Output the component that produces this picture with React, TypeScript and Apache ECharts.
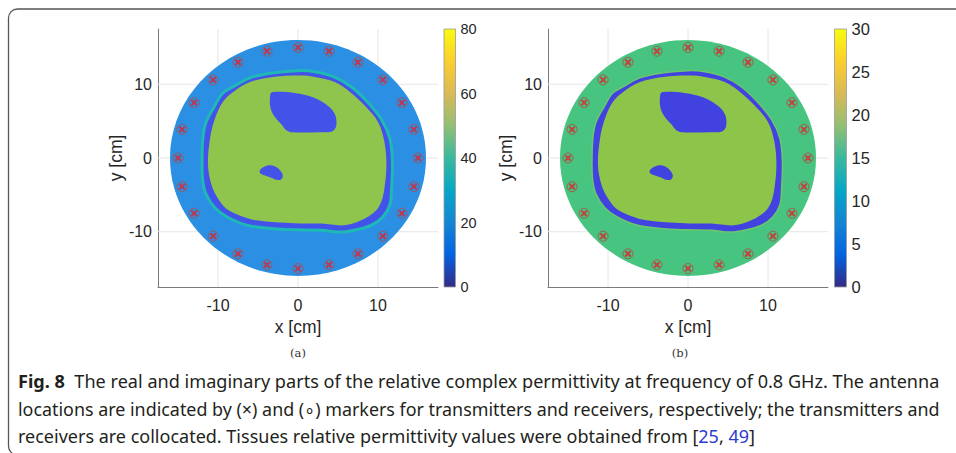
import React, { useEffect, useRef } from 'react';
import * as echarts from 'echarts';

// ---------- data ----------
const AXIS_MIN = -17.5;
const AXIS_MAX = 17.5;
const AXIS_STEP = 2.5;
const TICK_VALUES = [-10, 0, 10];
const DISC_RADIUS = 16;
const ANTENNA_RADIUS = 15;
const ANTENNA_ANGLES_DEG = [0, 15, 30, 45, 60, 75, 90, 105, 120, 135, 150, 165, 180, 195, 210, 225, 240, 255, 270, 285, 300, 315, 330, 345];

// centre line of the skin band (outer body outline), cm
const SKIN_CONTOUR = [
  [0, 11.85], [2.1, 11.7], [4.5, 11.0], [6.6, 9.7], [8.6, 7.7], [10.45, 5.2], [11.5, 2.6], [11.8, -0.5],
  [11.7, -4.1], [11.5, -6.3], [10.6, -8.0], [9.1, -9.15], [7.05, -9.8], [5.4, -10.05], [2.9, -9.8],
  [-0.4, -9.75], [-3.1, -9.6], [-6.4, -9.1], [-8.85, -8.0], [-10.4, -6.75], [-11.5, -4.9], [-11.9, -3.15],
  [-12.0, -1.0], [-11.9, 2.6], [-11.5, 4.85], [-10.45, 7.0], [-9.45, 8.75], [-7.95, 9.75], [-5.95, 10.9], [-3.1, 11.55],
];
// inner edge of fat layer (muscle outline), cm
const MUSCLE_CONTOUR = [
  [0.2, 11.2], [2.1, 11.0], [4.6, 10.3], [6.5, 8.96], [8.3, 7.15], [10.0, 4.9], [10.8, 2.2], [11.05, -1.0],
  [10.8, -4.15], [10.4, -5.97], [9.6, -7.3], [7.9, -8.45], [5.8, -9.13], [2.9, -8.9], [-0.4, -8.85],
  [-5.2, -8.45], [-7.3, -7.8], [-8.95, -6.9], [-10.0, -5.5], [-10.8, -3.7], [-11.25, -1.0], [-11.0, 2.6],
  [-10.4, 5.3], [-9.4, 7.6], [-8.1, 8.96], [-6.0, 10.3], [-3.1, 11.0],
];
const LUNG_CONTOUR = [
  [-3.4, 8.8], [-3.1, 8.95], [-1.46, 8.95], [0.2, 8.7], [2.3, 8.05], [3.96, 6.9], [4.58, 6.0], [4.8, 5.1],
  [4.7, 4.1], [4.17, 3.57], [2.7, 3.5], [-0.83, 3.5], [-1.46, 3.75], [-2.08, 4.57], [-2.7, 5.3], [-3.25, 6.2],
  [-3.5, 7.2], [-3.5, 8.3],
];
const SMALL_ORGAN_CONTOUR = [
  [-4.8, -1.76], [-4.4, -1.3], [-3.6, -1.0], [-2.9, -1.13], [-2.3, -1.6], [-1.9, -2.35], [-2.1, -2.9],
  [-2.7, -2.95], [-3.33, -2.67], [-4.2, -2.35], [-4.7, -2.1],
];

const COLORBAR_A_TICKS = [0, 20, 40, 60, 80];
const COLORBAR_B_TICKS = [0, 5, 10, 15, 20, 25, 30];

const PARULA_STOPS = ['#352a87', '#0363e1', '#1485d4', '#06a7c6', '#38b99e', '#92bf73', '#d9ba56', '#fcce2e', '#f9fb0e'];

const PANEL_COLORS = [
  { bg: '#2b8fe3', skin: '#1fb9b5', skinWidth: 3, fat: '#4353ea', muscle: '#8fc54c', organ: '#4353ea' },
  { bg: '#47c480', skin: '#6cc66e', skinWidth: 1.5, fat: '#4242e0', muscle: '#8dc54b', organ: '#4242e0' },
];

const CAPTION_LINES: [string, string][][] = [
  [['b', 'Fig. 8'], ['n', '  The real and imaginary parts of the relative complex permittivity at frequency of 0.8 GHz. The antenna']],
  [['n', 'locations are indicated by (\u00d7) and (\u2218) markers for transmitters and receivers, respectively; the transmitters and']],
  [['n', 'receivers are collocated. Tissues relative permittivity values were obtained from ['], ['l', '25'], ['n', ', '], ['l', '49'], ['n', ']']],
];

const FONT = '"Liberation Sans", Arial, sans-serif';
const CAP_FONT = '"Noto Sans", sans-serif';
const CAP_SIZE = 18;

function measure(segs: [string, string][]) {
  const ctx = document.createElement('canvas').getContext('2d')!;
  let w = 0;
  for (const [k, t] of segs) {
    ctx.font = `${k === 'b' ? 'bold ' : ''}${CAP_SIZE}px "Noto Sans"`;
    w += ctx.measureText(t).width;
  }
  return w;
}

export default function App() {
  const ref = useRef<HTMLDivElement>(null);
  useEffect(() => {
    if (!ref.current) return;
    const chart = echarts.init(ref.current, undefined, { renderer: 'svg' });

    const tickFmt = (v: number) => (TICK_VALUES.some((t) => Math.abs(t - v) < 1e-6) ? String(Math.round(v)) : '');
    const xAx = (gi: number) => ({
      type: 'value', gridIndex: gi, min: AXIS_MIN, max: AXIS_MAX, interval: AXIS_STEP,
      name: 'x [cm]', nameLocation: 'middle', nameGap: 29,
      nameTextStyle: { fontFamily: FONT, fontSize: 17.5, color: '#262626' },
      axisLine: { show: true, onZero: false, lineStyle: { color: '#7a7a7a', width: 1 } },
      axisTick: { show: false }, splitLine: { show: false },
      axisLabel: { formatter: tickFmt, fontFamily: FONT, fontSize: 16, color: '#262626', margin: 10 },
    });
    const yAx = (gi: number) => ({
      type: 'value', gridIndex: gi, min: AXIS_MIN, max: AXIS_MAX, interval: AXIS_STEP,
      name: 'y [cm]', nameLocation: 'middle', nameGap: 30, nameRotate: 90,
      nameTextStyle: { fontFamily: FONT, fontSize: 17.5, color: '#262626' },
      axisLine: { show: true, onZero: false, lineStyle: { color: '#7a7a7a', width: 1 } },
      axisTick: { show: false }, splitLine: { show: false },
      axisLabel: { formatter: tickFmt, fontFamily: FONT, fontSize: 16, color: '#262626', margin: 6 },
    });
    const cbX = (gi: number) => ({ type: 'value', gridIndex: gi, min: 0, max: 1, show: false });
    const cbY = (gi: number, ticks: number[], size: number) => ({
      type: 'value', gridIndex: gi, min: ticks[0], max: ticks[ticks.length - 1], interval: ticks[1] - ticks[0],
      position: 'right', axisLine: { show: false }, axisTick: { show: false }, splitLine: { show: false },
      axisLabel: { fontFamily: FONT, fontSize: size, color: '#262626', margin: 5 },
    });

    const polySeries = (pi: number, contour: number[][], fill: string, z: number, stroke?: string, lw?: number) => ({
      type: 'custom', xAxisIndex: pi, yAxisIndex: pi, z, silent: true, data: [[0, 0]],
      renderItem: (_p: any, api: any) => ({
        type: 'polygon',
        shape: { points: contour.map((p) => api.coord(p)), smooth: 0.35 },
        style: { fill, stroke: stroke || 'none', lineWidth: lw || 0 },
      }),
    });

    const series: any[] = [];
    [0, 1].forEach((pi) => {
      const c = PANEL_COLORS[pi];
      series.push({
        type: 'custom', xAxisIndex: pi, yAxisIndex: pi, z: 1, silent: true,
        data: TICK_VALUES.map((v) => [v, v]),
        renderItem: (_p: any, api: any) => {
          const v = api.value(0);
          const a = api.coord([v, AXIS_MIN]); const b = api.coord([v, AXIS_MAX]);
          const c1 = api.coord([AXIS_MIN, v]); const d = api.coord([AXIS_MAX, v]);
          const st = { stroke: '#e6e6e6', lineWidth: 1 };
          return {
            type: 'group', children: [
              { type: 'line', shape: { x1: a[0], y1: a[1], x2: b[0], y2: b[1] }, style: st },
              { type: 'line', shape: { x1: c1[0], y1: c1[1], x2: d[0], y2: d[1] }, style: st },
            ],
          };
        },
      });
      series.push({
        type: 'custom', xAxisIndex: pi, yAxisIndex: pi, z: 2, silent: true, data: [[0, 0, DISC_RADIUS]],
        renderItem: (_p: any, api: any) => {
          const ctr = api.coord([api.value(0), api.value(1)]);
          const s = api.size([api.value(2), api.value(2)]);
          return { type: 'ellipse', shape: { cx: ctr[0], cy: ctr[1], rx: s[0], ry: s[1] }, style: { fill: c.bg } };
        },
      });
      series.push(polySeries(pi, SKIN_CONTOUR, c.fat, 3, c.skin, c.skinWidth));
      series.push(polySeries(pi, MUSCLE_CONTOUR, c.muscle, 4));
      series.push(polySeries(pi, LUNG_CONTOUR, c.organ, 5));
      series.push(polySeries(pi, SMALL_ORGAN_CONTOUR, c.organ, 5));
      const ant = ANTENNA_ANGLES_DEG.map((d) => [
        ANTENNA_RADIUS * Math.cos((d * Math.PI) / 180),
        ANTENNA_RADIUS * Math.sin((d * Math.PI) / 180),
      ]);
      series.push({
        type: 'scatter', xAxisIndex: pi, yAxisIndex: pi, z: 6, silent: true, data: ant,
        symbol: 'circle', symbolSize: 10,
        itemStyle: { color: 'rgba(0,0,0,0)', borderColor: '#a8504e', borderWidth: 1, opacity: 0.85 },
      });
      series.push({
        type: 'scatter', xAxisIndex: pi, yAxisIndex: pi, z: 7, silent: true, data: ant,
        symbol: 'path://M0,2 L2,0 L5,3 L8,0 L10,2 L7,5 L10,8 L8,10 L5,7 L2,10 L0,8 L3,5 Z',
        symbolSize: 7, itemStyle: { color: '#e3202a' },
      });
    });

    const grad = () => new echarts.graphic.LinearGradient(0, 1, 0, 0,
      PARULA_STOPS.map((col, i) => ({ offset: i / (PARULA_STOPS.length - 1), color: col })));
    [[2, COLORBAR_A_TICKS], [3, COLORBAR_B_TICKS]].forEach(([gi, ticks]: any) => {
      series.push({
        type: 'custom', xAxisIndex: gi, yAxisIndex: gi, z: 2, silent: true,
        data: [[0, ticks[0], 1, ticks[ticks.length - 1]]],
        renderItem: (_p: any, api: any) => {
          const p0 = api.coord([api.value(0), api.value(1)]);
          const p1 = api.coord([api.value(2), api.value(3)]);
          return {
            type: 'rect',
            shape: { x: p0[0], y: p1[1], width: p1[0] - p0[0], height: p0[1] - p1[1] },
            style: { fill: grad(), stroke: '#9a9a9a', lineWidth: 0.8 },
          };
        },
      });
    });

    // caption
    const w1 = measure(CAPTION_LINES[0]);
    const w2 = measure(CAPTION_LINES[1]);
    const s1 = 922 / w1; const s2 = 922 / w2; const s3 = (s1 + s2) / 2;
    const scales = [s1, s2, s3];
    const ys = [381, 408.5, 436];
    const captionGraphics = CAPTION_LINES.map((segs, i) => ({
      type: 'text', x: 18, y: ys[i], scaleX: scales[i], silent: true,
      style: {
        text: segs.map(([k, t]) => `{${k}|${t}}`).join(''),
        verticalAlign: 'middle',
        rich: {
          b: { fontFamily: CAP_FONT, fontSize: CAP_SIZE, fontWeight: 'bold', fill: '#231f20' },
          n: { fontFamily: CAP_FONT, fontSize: CAP_SIZE, fill: '#231f20' },
          l: { fontFamily: CAP_FONT, fontSize: CAP_SIZE, fill: '#2c3bd0' },
        },
      },
    }));

    chart.setOption({
      animation: false,
      backgroundColor: '#ffffff',
      grid: [
        { left: 158, top: 29, width: 280, height: 258 },
        { left: 548, top: 29, width: 280, height: 258 },
        { left: 444, top: 29, width: 11.5, height: 258 },
        { left: 834.5, top: 29, width: 12, height: 258 },
      ],
      xAxis: [xAx(0), xAx(1), cbX(2), cbX(3)],
      yAxis: [yAx(0), yAx(1), cbY(2, COLORBAR_A_TICKS, 14.5), cbY(3, COLORBAR_B_TICKS, 16.5)],
      series,
      graphic: [
        { type: 'rect', silent: true, shape: { x: 8.5, y: 9, width: 1000, height: 446, r: 9 }, style: { fill: 'none', stroke: '#555', lineWidth: 1.3 } },
        { type: 'text', x: 298, y: 353, silent: true, style: { text: '(a)', fontFamily: '"DejaVu Serif", serif', fontSize: 11.5, align: 'center', verticalAlign: 'middle', fill: '#333' } },
        { type: 'text', x: 680, y: 353, silent: true, style: { text: '(b)', fontFamily: '"DejaVu Serif", serif', fontSize: 11.5, align: 'center', verticalAlign: 'middle', fill: '#333' } },
        ...captionGraphics,
      ],
    });
    return () => chart.dispose();
  }, []);
  return <div ref={ref} style={{ position: 'fixed', left: 0, top: 0, width: 956, height: 453, background: '#fff' }} />;
}
